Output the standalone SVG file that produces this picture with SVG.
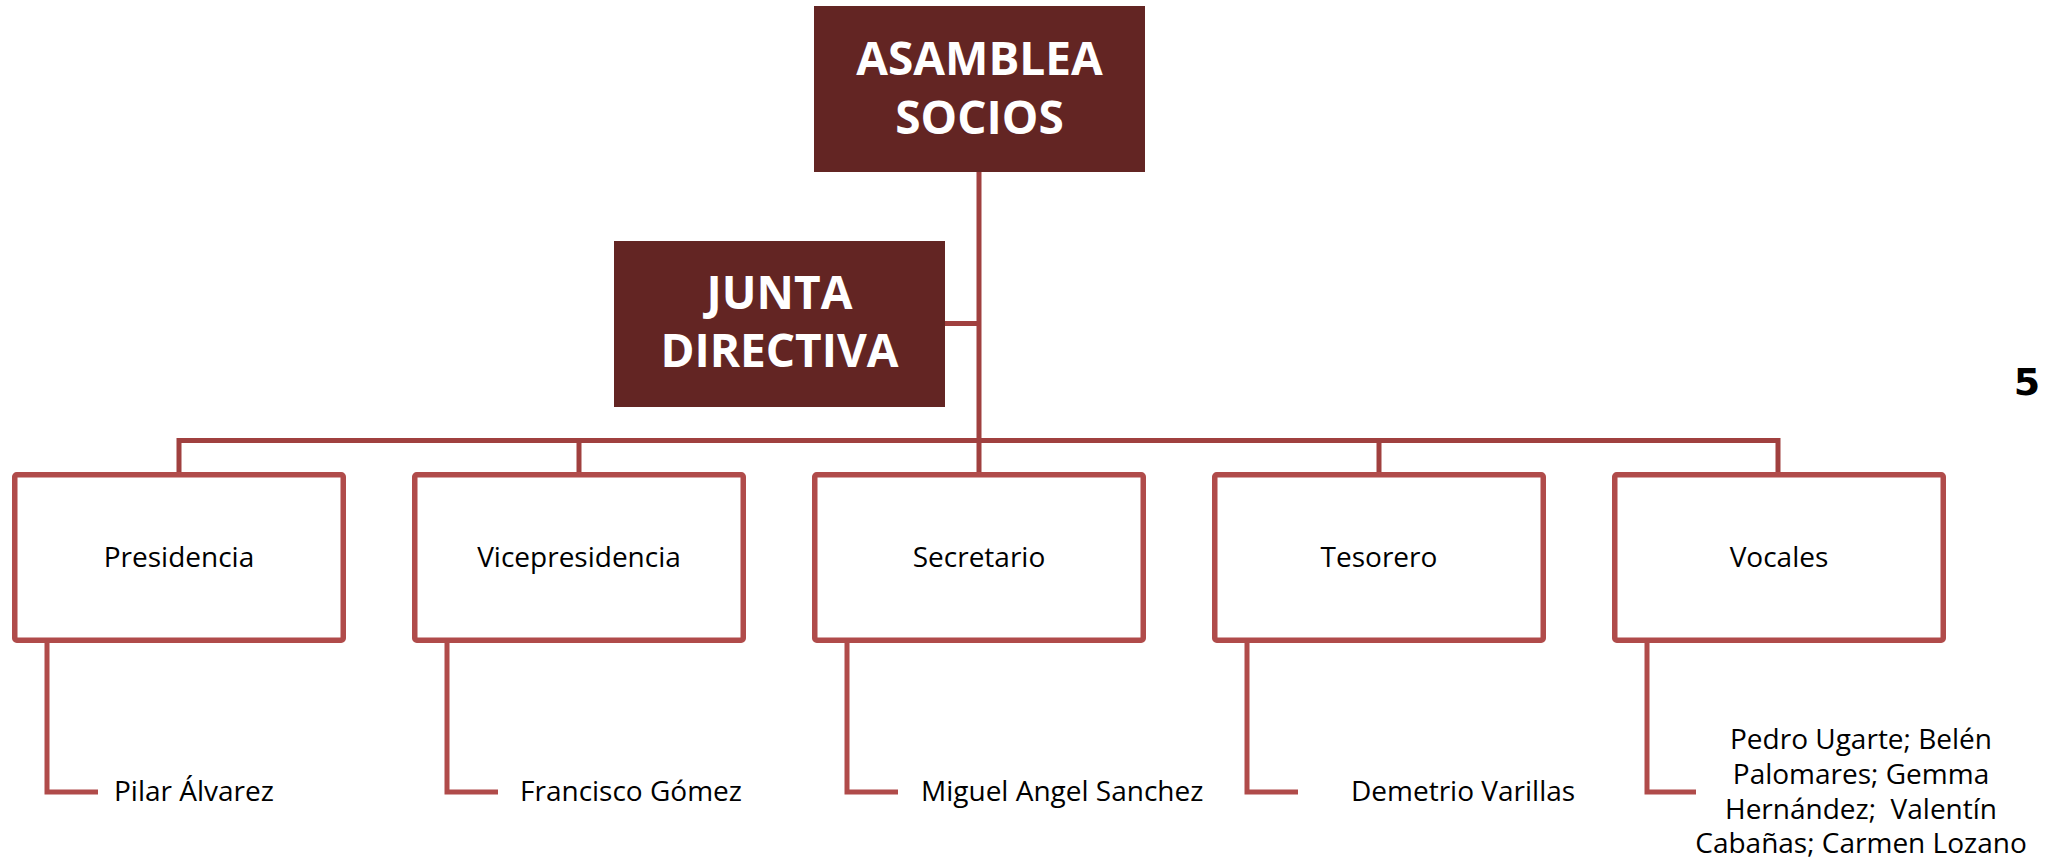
<svg xmlns="http://www.w3.org/2000/svg" width="2049" height="860" viewBox="0 0 2049 860">
<style>
  .head { fill: #632523; }
  .head-t { font-family: "Open Sans", "Liberation Sans", sans-serif; font-weight: bold; font-size: 46px; fill: #ffffff; text-anchor: middle; }
  .box { fill: #ffffff; stroke: #B04B4A; stroke-width: 5.5; }
  .box-t { font-family: "Open Sans", "Liberation Sans", sans-serif; font-size: 28px; fill: #000000; text-anchor: middle; }
  .leaf-t { font-family: "Open Sans", "Liberation Sans", sans-serif; font-size: 28px; fill: #000000; }
  .conn { fill: none; stroke: #A0403F; stroke-width: 5; }
  .leaf { fill: none; stroke: #B04B4A; stroke-width: 5; }
</style>
<rect width="2049" height="860" fill="#ffffff"/>
<g id="connectors">
  <path class="conn" d="M979,172 V473"/>
  <path class="conn" d="M945,323.5 H979"/>
  <path class="conn" d="M179,473 V440.5 H1778 V473"/>
  <path class="conn" d="M579,440.5 V473"/>
  <path class="conn" d="M1379,440.5 V473"/>
  <path class="leaf" d="M47,643 V792 H98"/>
  <path class="leaf" d="M447,643 V792 H498"/>
  <path class="leaf" d="M847,643 V792 H898"/>
  <path class="leaf" d="M1247,643 V792 H1298"/>
  <path class="leaf" d="M1647,643 V792 H1696"/>
</g>
<g id="asamblea">
  <rect class="head" x="814" y="6" width="331" height="166"/>
  <text class="head-t" x="979.5" y="75">ASAMBLEA</text>
  <text class="head-t" x="979.5" y="134">SOCIOS</text>
</g>
<g id="junta">
  <rect class="head" x="614" y="241" width="331" height="166"/>
  <text class="head-t" x="779.5" y="309">JUNTA</text>
  <text class="head-t" x="779.5" y="367">DIRECTIVA</text>
</g>
<g id="presidencia">
  <rect class="box" x="14.75" y="474.75" width="328.5" height="165.5" rx="2"/>
  <text class="box-t" x="179" y="567">Presidencia</text>
</g>
<g id="vicepresidencia">
  <rect class="box" x="414.75" y="474.75" width="328.5" height="165.5" rx="2"/>
  <text class="box-t" x="579" y="567">Vicepresidencia</text>
</g>
<g id="secretario">
  <rect class="box" x="814.75" y="474.75" width="328.5" height="165.5" rx="2"/>
  <text class="box-t" x="979" y="567">Secretario</text>
</g>
<g id="tesorero">
  <rect class="box" x="1214.75" y="474.75" width="328.5" height="165.5" rx="2"/>
  <text class="box-t" x="1379" y="567">Tesorero</text>
</g>
<g id="vocales">
  <rect class="box" x="1614.75" y="474.75" width="328.5" height="165.5" rx="2"/>
  <text class="box-t" x="1779" y="567">Vocales</text>
</g>
<g id="pilar">
  <text class="leaf-t" x="114" y="801">Pilar Álvarez</text>
</g>
<g id="francisco">
  <text class="leaf-t" x="520" y="801">Francisco Gómez</text>
</g>
<g id="miguel">
  <text class="leaf-t" x="921" y="801">Miguel Angel Sanchez</text>
</g>
<g id="demetrio">
  <text class="leaf-t" x="1351" y="801">Demetrio Varillas</text>
</g>
<g id="vocales-miembros">
  <text class="box-t" x="1861" y="749">Pedro Ugarte; Belén</text>
  <text class="box-t" x="1861" y="784">Palomares; Gemma</text>
  <text class="box-t" x="1861" y="819" xml:space="preserve">Hernández;  Valentín</text>
  <text class="box-t" x="1861" y="853">Cabañas; Carmen Lozano</text>
</g>
<g id="page-number">
  <text x="2027" y="395" font-family="DejaVu Sans, sans-serif" font-weight="bold" font-size="38" text-anchor="middle" fill="#000000">5</text>
</g>
</svg>
